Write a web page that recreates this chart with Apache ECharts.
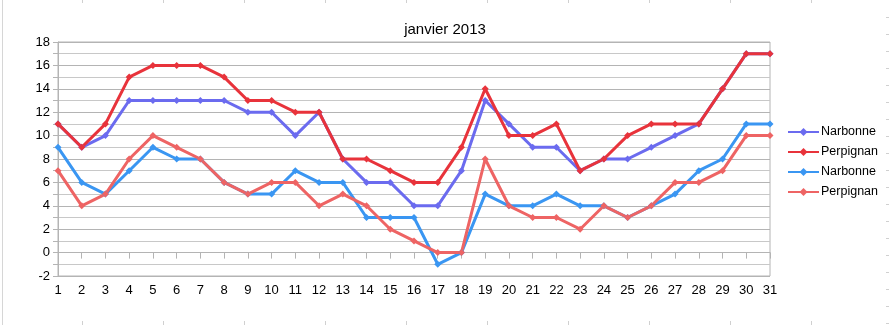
<!DOCTYPE html>
<html>
<head>
<meta charset="utf-8">
<script src="https://cdn.jsdelivr.net/npm/echarts@6/dist/echarts.min.js"></script>
<style>
  html, body { margin: 0; padding: 0; background: #ffffff; }
  #chart { width: 889px; height: 325px; }
</style>
</head>
<body>
<div id="chart"></div>
<script>
// Days of January 2013
const days = ['1','2','3','4','5','6','7','8','9','10','11','12','13','14','15','16','17','18','19','20','21','22','23','24','25','26','27','28','29','30','31'];

// Daily maximum temperatures (°C)
const narbonneMax = [11, 9, 10, 13, 13, 13, 13, 13, 12, 12, 10, 12, 8, 6, 6, 4, 4, 7, 13, 11, 9, 9, 7, 8, 8, 9, 10, 11, 14, 17, 17];
const perpignanMax = [11, 9, 11, 15, 16, 16, 16, 15, 13, 13, 12, 12, 8, 8, 7, 6, 6, 9, 14, 10, 10, 11, 7, 8, 10, 11, 11, 11, 14, 17, 17];

// Daily minimum temperatures (°C)
const narbonneMin = [9, 6, 5, 7, 9, 8, 8, 6, 5, 5, 7, 6, 6, 3, 3, 3, -1, 0, 5, 4, 4, 5, 4, 4, 3, 4, 5, 7, 8, 11, 11];
const perpignanMin = [7, 4, 5, 8, 10, 9, 8, 6, 5, 6, 6, 4, 5, 4, 2, 1, 0, 0, 8, 4, 3, 3, 2, 4, 3, 4, 6, 6, 7, 10, 10];

const seriesNames = ['Narbonne', 'Perpignan', 'Narbonne', 'Perpignan'];
const seriesColors = ['#6b6bef', '#e8333b', '#3a96f2', '#ee6464'];
const seriesData = [narbonneMax, perpignanMax, narbonneMin, perpignanMin];

const FONT = '"Liberation Sans", Arial, sans-serif';
const GRID_COLOR = '#b4b4b4';

const chart = echarts.init(document.getElementById('chart'), null, { renderer: 'canvas' });

const series = seriesData.map((data, i) => ({
  name: seriesNames[i],
  type: 'line',
  data: data,
  symbol: 'diamond',
  symbolSize: 7,
  showSymbol: true,
  lineStyle: { width: 3, color: seriesColors[i] },
  itemStyle: { color: seriesColors[i] },
  emphasis: { disabled: true },
  animation: false
}));

// Legend drawn as graphic items so each entry keeps its own line+diamond swatch
const legendGraphics = [];
seriesNames.forEach((name, i) => {
  const y = 132 + i * 20;
  legendGraphics.push({
    type: 'line',
    shape: { x1: 788, y1: y, x2: 819, y2: y },
    style: { stroke: seriesColors[i], lineWidth: 2 }
  });
  legendGraphics.push({
    type: 'polygon',
    shape: { points: [[803.5, y - 4], [807.5, y], [803.5, y + 4], [799.5, y]] },
    style: { fill: seriesColors[i] }
  });
  legendGraphics.push({
    type: 'text',
    x: 821, y: y,
    style: { text: name, fill: '#000', font: '12.5px ' + FONT, textVerticalAlign: 'middle' }
  });
});

// Faint worksheet cell lines around the chart frame
const frameGraphics = [{
  type: 'line',
  shape: { x1: 2.5, y1: 0, x2: 2.5, y2: 325 },
  style: { stroke: '#d6d6d6', lineWidth: 1 }
}];
[82, 163, 244, 325, 406, 487, 568, 649, 730, 811].forEach(x => {
  frameGraphics.push({ type: 'line', shape: { x1: x + 0.5, y1: 0, x2: x + 0.5, y2: 3 }, style: { stroke: '#d0d0d0', lineWidth: 1 } });
  frameGraphics.push({ type: 'line', shape: { x1: x + 0.5, y1: 321, x2: x + 0.5, y2: 325 }, style: { stroke: '#d0d0d0', lineWidth: 1 } });
});
for (let y = 17; y < 325; y += 17) {
  frameGraphics.push({ type: 'line', shape: { x1: 886, y1: y + 0.5, x2: 889, y2: y + 0.5 }, style: { stroke: '#d0d0d0', lineWidth: 1 } });
}

chart.setOption({
  backgroundColor: '#ffffff',
  animation: false,
  title: {
    text: 'janvier 2013',
    left: 440,
    textAlign: 'center',
    top: 17,
    textStyle: { fontFamily: FONT, fontSize: 15, fontWeight: 'normal', color: '#000' }
  },
  grid: {
    left: 58, right: 119, top: 42, bottom: 49,
    show: true, borderColor: GRID_COLOR, borderWidth: 1, backgroundColor: 'transparent'
  },
  xAxis: {
    type: 'category',
    data: days,
    boundaryGap: false,
    axisLine: { lineStyle: { color: GRID_COLOR, width: 1 } },
    axisTick: { show: true, alignWithLabel: true, length: 6, lineStyle: { color: GRID_COLOR } },
    axisLabel: { color: '#000', fontFamily: FONT, fontSize: 13, margin: 8, interval: 0 },
    splitLine: { show: false }
  },
  yAxis: {
    type: 'value',
    min: -2,
    max: 18,
    interval: 2,
    axisLine: { show: true, lineStyle: { color: GRID_COLOR, width: 1 } },
    axisTick: { show: true, length: 5, lineStyle: { color: GRID_COLOR } },
    minorTick: { show: true, splitNumber: 2, length: 5, lineStyle: { color: GRID_COLOR } },
    axisLabel: { color: '#000', fontFamily: FONT, fontSize: 13, margin: 8 },
    splitLine: { show: true, lineStyle: { color: GRID_COLOR, width: 1 } },
    minorSplitLine: { show: true, lineStyle: { color: '#c8c8c8', width: 1 } }
  },
  legend: { show: false },
  graphic: frameGraphics.concat(legendGraphics),
  series: series
});
</script>
</body>
</html>
